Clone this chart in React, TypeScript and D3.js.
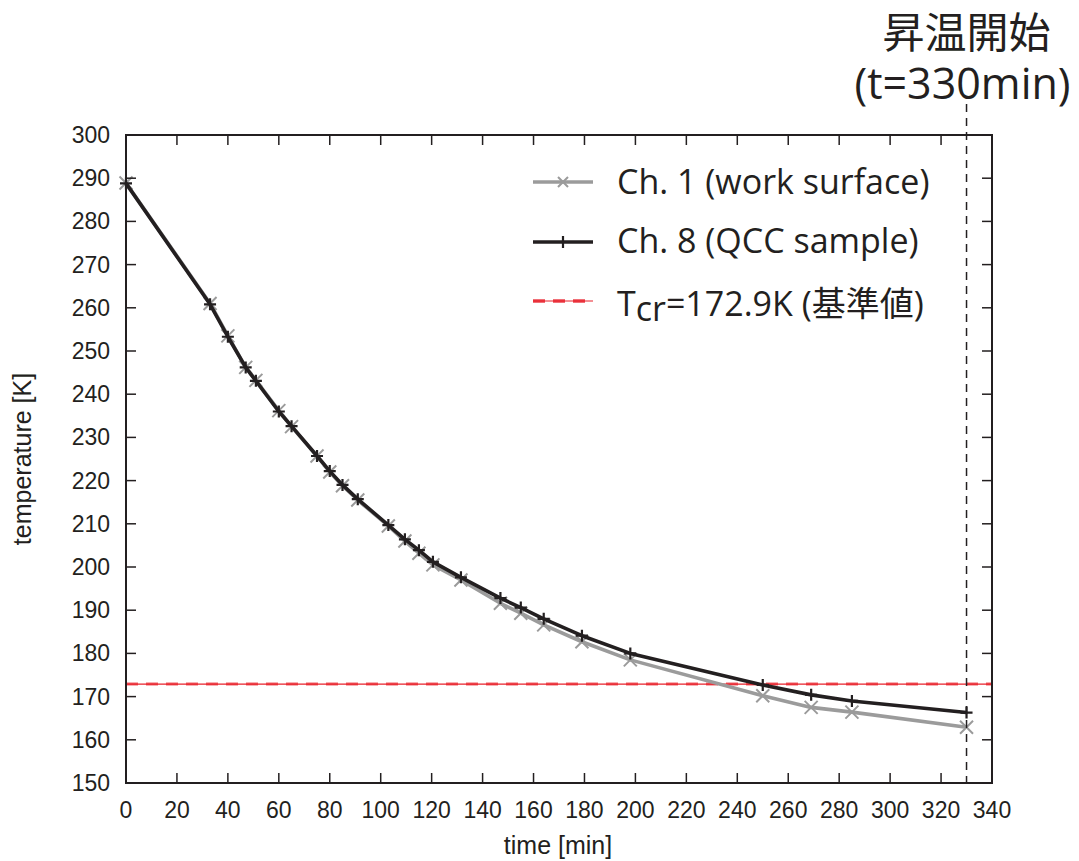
import * as d3 from 'd3';

// ── データ ──────────────────────────────────────────────
const times = [0, 33, 40, 47, 51, 60, 65, 75, 80, 85, 91, 103, 109.5, 115, 120.5, 131.5, 147, 155, 164, 179, 198, 250, 269, 285, 330];
const ch1Temps = [288.9, 261.0, 253.5, 246.2, 243.2, 236.2, 232.5, 225.7, 222.0, 218.8, 215.5, 209.5, 206.0, 203.2, 200.5, 197.0, 191.6, 189.3, 186.6, 182.7, 178.5, 170.2, 167.5, 166.4, 162.9];
const ch8Temps = [288.8, 260.8, 253.3, 246.2, 243.1, 236.0, 232.6, 225.7, 222.2, 219.0, 215.7, 209.7, 206.4, 203.9, 201.2, 197.6, 192.8, 190.6, 188.0, 184.1, 180.0, 172.7, 170.4, 169.0, 166.3];
const tcr = 172.9;
const heatStart = 330;
const xTicks = d3.range(0, 341, 20);
const yTicks = d3.range(150, 301, 10);
const legendLabels = ['Ch. 1 (work surface)', 'Ch. 8 (QCC sample)'];

const W = 1079;
const H = 861;
const m = { left: 126, right: 992, top: 135, bottom: 783 };

const AXIS = '#231f20';
const GRAY = '#9b9b9b';
const RED = '#e8202a';
const TICK_FONT = '"Liberation Sans", Arial, sans-serif';
const LEG_FONT = '"Open Sans", "Noto Sans", sans-serif';
const CJK_FONT = '"Noto Sans CJK JP", sans-serif';

const x = d3.scaleLinear().domain([0, 340]).range([m.left, m.right]);
const y = d3.scaleLinear().domain([150, 300]).range([m.bottom, m.top]);

function Cross({ cx, cy, r, color }: { cx: number; cy: number; r: number; color: string }) {
  return (
    <path
      d={`M${cx - r},${cy - r}L${cx + r},${cy + r}M${cx - r},${cy + r}L${cx + r},${cy - r}`}
      stroke={color}
      strokeWidth={2}
      fill="none"
    />
  );
}

function Plus({ cx, cy, r, color }: { cx: number; cy: number; r: number; color: string }) {
  return (
    <path
      d={`M${cx - r},${cy}L${cx + r},${cy}M${cx},${cy - r}L${cx},${cy + r}`}
      stroke={color}
      strokeWidth={2.2}
      fill="none"
    />
  );
}

export default function App() {
  const line = d3.line<[number, number]>().x((d) => x(d[0])).y((d) => y(d[1]));
  const ch1 = times.map((t, i) => [t, ch1Temps[i]] as [number, number]);
  const ch8 = times.map((t, i) => [t, ch8Temps[i]] as [number, number]);
  const tickLen = 10;

  const legY = [182, 242, 301];
  const legX0 = 533;
  const legX1 = 593;
  const legText = 617;

  return (
    <svg width={W} height={H} style={{ display: 'block', position: 'absolute', left: 0, top: 0 }}>
      <rect width={W} height={H} fill="#fff" />

      {/* 基準値ライン */}
      <line x1={x(0)} x2={x(340)} y1={y(tcr)} y2={y(tcr)} stroke={RED} strokeWidth={1.2} />
      <line x1={x(0)} x2={x(340)} y1={y(tcr)} y2={y(tcr)} stroke={RED} strokeOpacity={0.7} strokeWidth={3} strokeDasharray="12,8" />

      {/* Ch.1 */}
      <path d={line(ch1) ?? ''} fill="none" stroke={GRAY} strokeWidth={3.6} strokeLinejoin="round" />
      {ch1.map((d, i) => (
        <Cross key={'c' + i} cx={x(d[0])} cy={y(d[1])} r={6.5} color={GRAY} />
      ))}

      {/* Ch.8 */}
      <path d={line(ch8) ?? ''} fill="none" stroke={AXIS} strokeWidth={3.6} strokeLinejoin="round" />
      {ch8.map((d, i) => (
        <Plus key={'p' + i} cx={x(d[0])} cy={y(d[1])} r={6} color={AXIS} />
      ))}

      {/* 枠と目盛 */}
      <rect x={m.left} y={m.top} width={m.right - m.left} height={m.bottom - m.top} fill="none" stroke={AXIS} strokeWidth={2} />
      {xTicks.map((t) => (
        <g key={'x' + t}>
          <line x1={x(t)} x2={x(t)} y1={m.bottom} y2={m.bottom - tickLen} stroke={AXIS} strokeWidth={1.5} />
          <line x1={x(t)} x2={x(t)} y1={m.top} y2={m.top + tickLen} stroke={AXIS} strokeWidth={1.5} />
          <text x={x(t)} y={818} textAnchor="middle" fontFamily={TICK_FONT} fontSize={23} fill={AXIS}>
            {t}
          </text>
        </g>
      ))}
      {yTicks.map((v) => (
        <g key={'y' + v}>
          <line x1={m.left} x2={m.left + tickLen} y1={y(v)} y2={y(v)} stroke={AXIS} strokeWidth={1.5} />
          <line x1={m.right} x2={m.right - tickLen} y1={y(v)} y2={y(v)} stroke={AXIS} strokeWidth={1.5} />
          <text x={110} y={y(v) + 8} textAnchor="end" fontFamily={TICK_FONT} fontSize={23} fill={AXIS}>
            {v}
          </text>
        </g>
      ))}

      <text x={558} y={854} textAnchor="middle" fontFamily={TICK_FONT} fontSize={25} fill={AXIS}>
        time [min]
      </text>
      <text
        transform={`translate(31,${459}) rotate(-90)`}
        textAnchor="middle"
        fontFamily={TICK_FONT}
        fontSize={25}
        fill={AXIS}
      >
        temperature [K]
      </text>

      {/* 昇温開始 */}
      <line x1={x(heatStart)} x2={x(heatStart)} y1={104} y2={m.bottom} stroke={AXIS} strokeWidth={1.5} strokeDasharray="8,6" />
      <text x={x(heatStart)} y={48} textAnchor="middle" fontFamily={CJK_FONT} fontSize={42} fill={AXIS}>
        昇温開始
      </text>
      <text x={x(heatStart) - 4} y={99} textAnchor="middle" fontFamily={LEG_FONT} fontSize={43} fill={AXIS}>
        (t=330min)
      </text>

      {/* 凡例 */}
      <line x1={legX0} x2={legX1} y1={legY[0]} y2={legY[0]} stroke={GRAY} strokeWidth={3.6} />
      <Cross cx={(legX0 + legX1) / 2} cy={legY[0]} r={5} color={GRAY} />
      <text x={legText} y={194} fontFamily={LEG_FONT} fontSize={34} fill={AXIS}>
        {legendLabels[0]}
      </text>

      <line x1={legX0} x2={legX1} y1={legY[1]} y2={legY[1]} stroke={AXIS} strokeWidth={3.6} />
      <Plus cx={(legX0 + legX1) / 2} cy={legY[1]} r={6} color={AXIS} />
      <text x={legText} y={253} fontFamily={LEG_FONT} fontSize={34} fill={AXIS}>
        {legendLabels[1]}
      </text>

      <line x1={legX0} x2={legX1} y1={legY[2]} y2={legY[2]} stroke={RED} strokeWidth={1.2} />
      <line x1={legX0} x2={legX1} y1={legY[2]} y2={legY[2]} stroke={RED} strokeOpacity={0.85} strokeWidth={3.5} strokeDasharray="12,8" />
      <text x={legText} y={316} fontFamily={LEG_FONT} fontSize={34} fill={AXIS}>
        T<tspan dy={5}>cr</tspan>
        <tspan dy={-5}>=172.9K (</tspan>
        <tspan fontFamily={CJK_FONT}>基準値</tspan>)
      </text>
    </svg>
  );
}
